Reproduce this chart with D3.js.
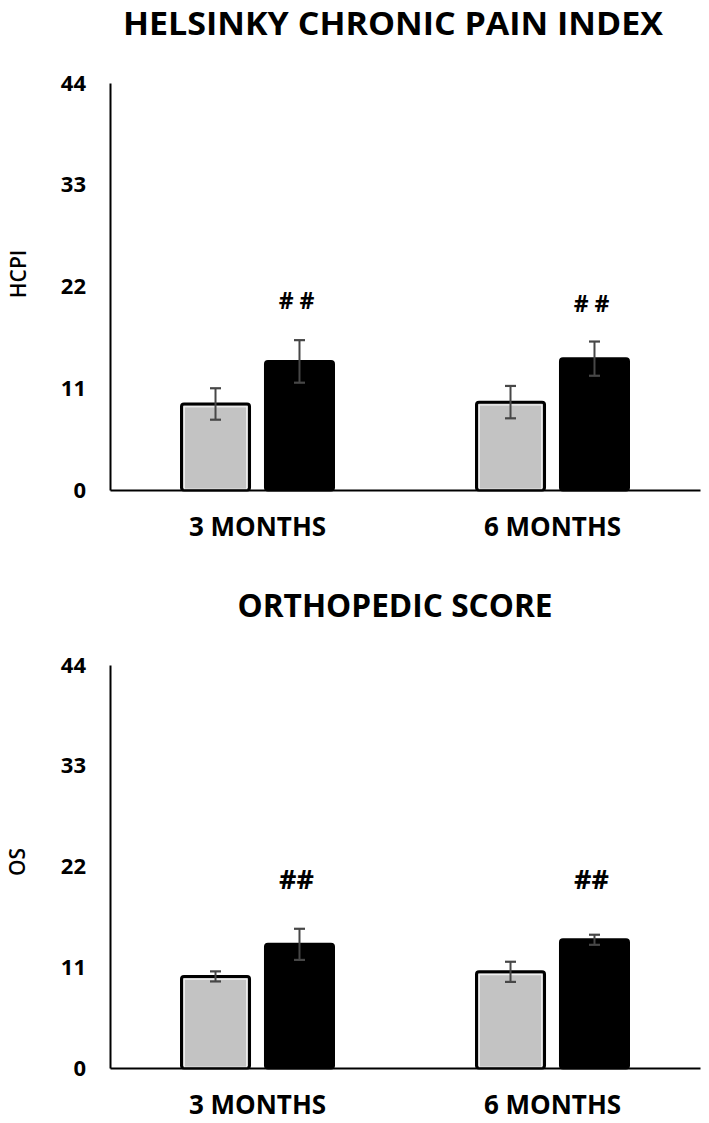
<!DOCTYPE html>
<html>
<head>
<meta charset="utf-8">
<script src="https://cdn.jsdelivr.net/npm/d3@7"></script>
<style>
  html, body { margin: 0; padding: 0; background: #fff; }
  svg { display: block; }
  text { font-family: "Open Sans", "DejaVu Sans", sans-serif; fill: #000; }
</style>
</head>
<body>
<script>
// ---- data ----
const categories = ["3 MONTHS", "6 MONTHS"];
const series = ["control", "treated"];
const yTicks = [0, 11, 22, 33, 44];

const hcpiMeans = [[9.3, 13.9], [9.5, 14.2]];
const hcpiErrors = [[1.7, 2.3], [1.75, 1.85]];
const hcpiMarkLevel = [20.5, 20.2];
const hcpiMarks = ["# #", "# #"];

const osMeans = [[10.0, 13.5], [10.5, 14.0]];
const osErrors = [[0.55, 1.7], [1.1, 0.55]];
const osMarkLevel = [20.7, 20.7];
const osMarks = ["##", "##"];

const W = 709, H = 1123;
const svg = d3.select("body").append("svg").attr("width", W).attr("height", H);

const x0 = d3.scaleBand().domain(categories).range([110, 700]).padding(0);
const groupW = 152;
const x1 = d3.scaleBand().domain(series)
  .range([x0.bandwidth() / 2 - groupW / 2, x0.bandwidth() / 2 + groupW / 2])
  .paddingInner(0.19).paddingOuter(0);

const fills = { control: "#c3c3c3", treated: "#000000" };

function panel(cfg) {
  const y = d3.scaleLinear().domain([0, 44]).range([cfg.y0, cfg.y44]);
  const g = svg.append("g");

  // title
  g.append("text").attr("x", cfg.titleX).attr("y", cfg.titleY)
    .attr("text-anchor", "middle").attr("font-size", 32).attr("font-weight", 700)
    .attr("textLength", cfg.titleLen).attr("lengthAdjust", "spacingAndGlyphs")
    .text(cfg.title);

  // y label
  g.append("text")
    .attr("transform", `translate(${cfg.labX},${cfg.labY}) rotate(-90)`)
    .attr("text-anchor", "middle").attr("dominant-baseline", "central")
    .attr("font-size", 21).attr("font-weight", 600)
    .text(cfg.ylabel);

  // y axis
  const ya = g.append("g").attr("transform", "translate(110,0)")
    .call(d3.axisLeft(y).tickValues(yTicks).tickSize(0).tickPadding(24).tickFormat(d3.format("d")));
  ya.select(".domain").attr("stroke", "#000").attr("stroke-width", 2);
  ya.selectAll("text").attr("font-size", 22).attr("font-weight", 700)
    .attr("font-family", "'Open Sans', sans-serif").attr("fill", "#000");

  // bars
  const groups = g.selectAll(".grp").data(categories).join("g")
    .attr("transform", d => `translate(${x0(d)},0)`);

  groups.each(function (cat, ci) {
    const gg = d3.select(this);
    series.forEach((s, si) => {
      const v = cfg.means[ci][si];
      const bx = x1(s), bw = x1.bandwidth();
      gg.append("rect")
        .attr("x", bx).attr("y", y(v))
        .attr("width", bw).attr("height", y(0) - y(v))
        .attr("rx", 2.5)
        .attr("fill", fills[s]).attr("stroke", "#000").attr("stroke-width", 3);
      if (s === "control") {
        gg.append("rect")
          .attr("x", bx + 2.8).attr("y", y(v) + 2.8)
          .attr("width", bw - 5.6).attr("height", y(0) - y(v) - 4)
          .attr("fill", "none").attr("stroke", "#f2f2f2").attr("stroke-width", 1.2);
      }
      // error bar
      const e = cfg.errors[ci][si];
      const cx = bx + bw / 2;
      const ec = "#474747";
      gg.append("line").attr("x1", cx).attr("x2", cx)
        .attr("y1", y(v + e)).attr("y2", y(v - e))
        .attr("stroke", ec).attr("stroke-width", 2);
      [v + e, v - e].forEach(t => {
        gg.append("line").attr("x1", cx - 5.5).attr("x2", cx + 5.5)
          .attr("y1", y(t)).attr("y2", y(t))
          .attr("stroke", ec).attr("stroke-width", 2.2);
      });
    });
    // significance mark
    gg.append("text")
      .attr("x", x1("treated") + x1.bandwidth() / 2 - 3)
      .attr("y", y(cfg.markLevel[ci]))
      .attr("text-anchor", "middle").attr("dominant-baseline", "central")
      .attr("font-size", cfg.markSize).attr("font-weight", 700)
      .style("white-space", "pre")
      .text(cfg.marks[ci]);
  });

  // x axis
  const xa = g.append("g").attr("transform", `translate(0,${y(0)})`)
    .call(d3.axisBottom(x0).tickSize(0).tickSizeOuter(0).tickPadding(cfg.xPad));
  xa.select(".domain").attr("stroke", "#000").attr("stroke-width", 2);
  xa.selectAll("text").attr("font-size", 26).attr("font-weight", 700)
    .attr("font-family", "'Open Sans', sans-serif").attr("fill", "#000");
}

panel({
  title: "HELSINKY CHRONIC PAIN INDEX", titleX: 393, titleY: 35, titleLen: 540,
  ylabel: "HCPI", labX: 18, labY: 274,
  y0: 490, y44: 83,
  means: hcpiMeans, errors: hcpiErrors,
  markLevel: hcpiMarkLevel, marks: hcpiMarks, markSize: 23,
  xPad: 28
});

panel({
  title: "ORTHOPEDIC SCORE", titleX: 395, titleY: 617, titleLen: 315,
  ylabel: "OS", labX: 17, labY: 862,
  y0: 1068, y44: 665,
  means: osMeans, errors: osErrors,
  markLevel: osMarkLevel, marks: osMarks, markSize: 27,
  xPad: 28
});
</script>
</body>
</html>
